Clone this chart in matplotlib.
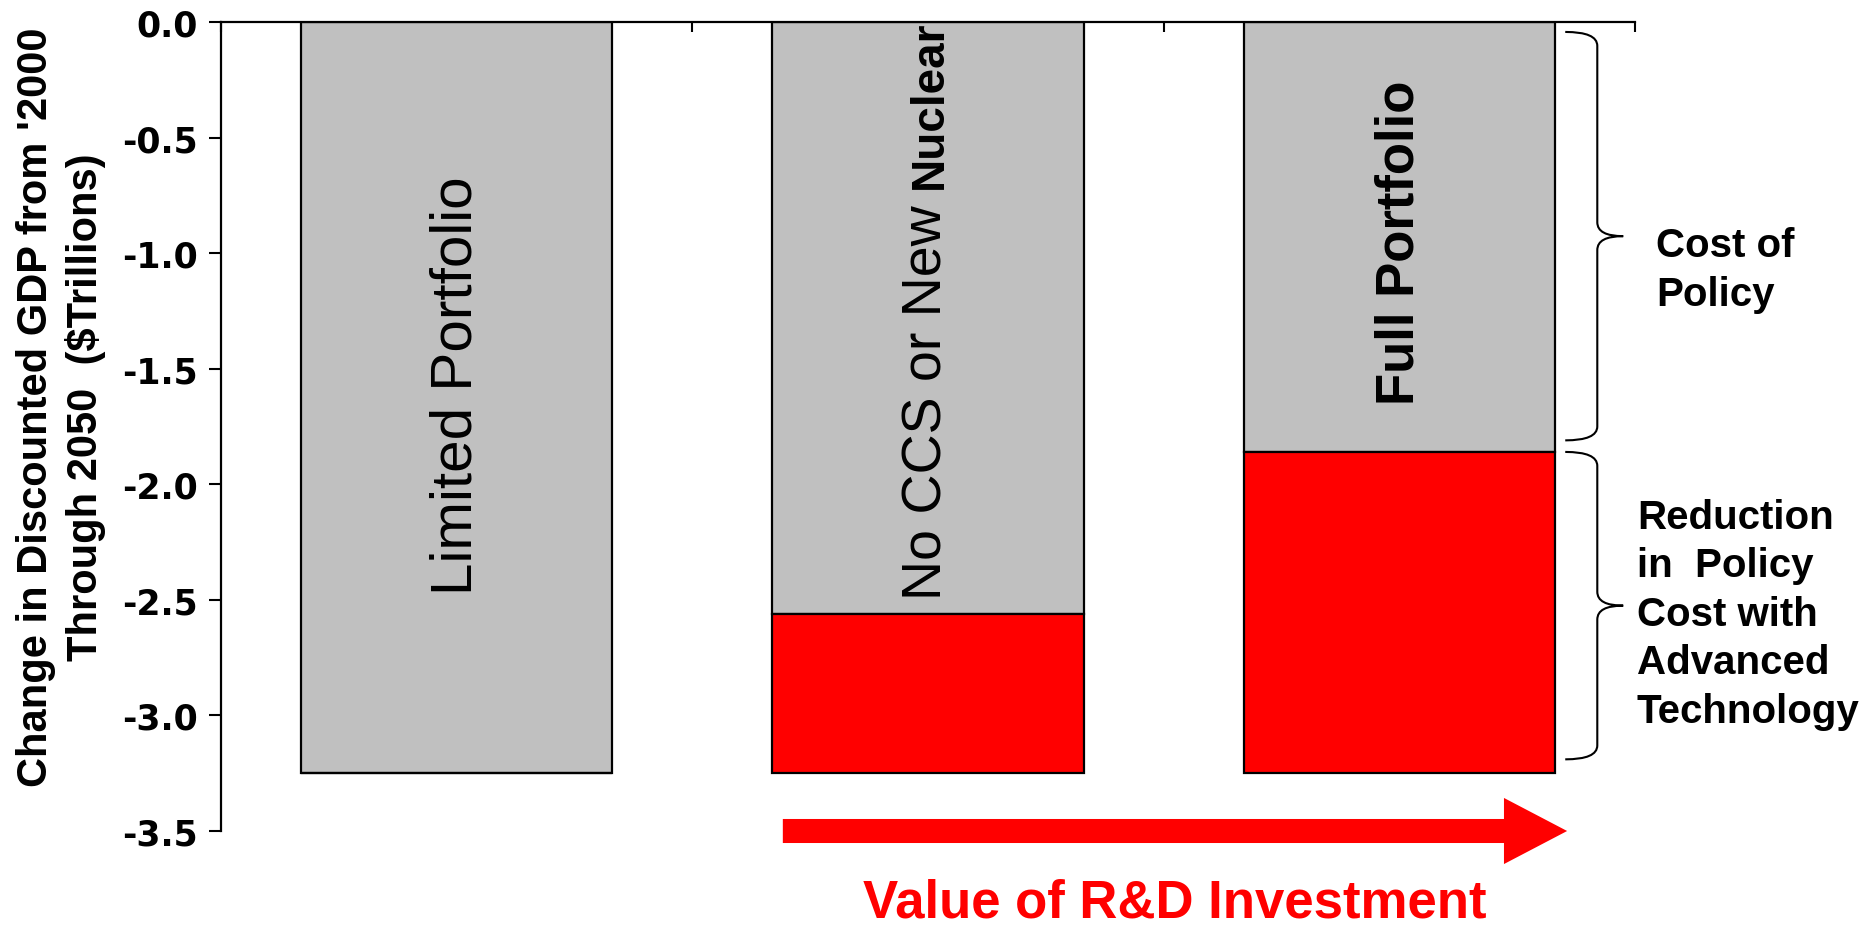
import numpy as np
import matplotlib
matplotlib.use('Agg')
import matplotlib.pyplot as plt
from matplotlib.path import Path
from matplotlib.patches import PathPatch, FancyArrow

plt.rcParams['font.family'] = ['Liberation Sans', 'DejaVu Sans']

# data
scenarios = ['Limited Portfolio', 'No CCS or New Nuclear', 'Full Portfolio']
total_cost = [-3.25, -3.25, -3.25]      # cost of policy, limited technology
cost_with_tech = [-3.25, -2.56, -1.86]  # cost of policy with the technology set
y_ticks = [0.0, -0.5, -1.0, -1.5, -2.0, -2.5, -3.0, -3.5]


def brace(ax, x_left, x_stem, x_tip, y_top, y_bot, r=0.06):
	y_mid = (y_top + y_bot) / 2.0
	verts = [(x_left, y_top), (x_stem, y_top), (x_stem, y_top - r),
		(x_stem, y_mid + r), (x_stem, y_mid), (x_tip, y_mid),
		(x_stem, y_mid), (x_stem, y_mid - r),
		(x_stem, y_bot + r), (x_stem, y_bot), (x_left, y_bot)]
	codes = [Path.MOVETO, Path.CURVE3, Path.CURVE3,
		Path.LINETO, Path.CURVE3, Path.CURVE3,
		Path.CURVE3, Path.CURVE3,
		Path.LINETO, Path.CURVE3, Path.CURVE3]
	ax.add_patch(PathPatch(Path(verts, codes), facecolor='none', edgecolor='black',
		lw=1.5, clip_on=False))


fig = plt.figure(figsize=(18.64, 9.28), dpi=100)
ax = fig.add_axes([221/1864, 1-832/928, (1635-221)/1864, (832-23)/928])

x = np.arange(len(scenarios))
red_part = np.array(total_cost) - np.array(cost_with_tech)
ax.bar(x, cost_with_tech, width=0.66, color='#C0C0C0', edgecolor='black', linewidth=1.6, zorder=2)
ax.bar(x, red_part, bottom=cost_with_tech, width=0.66, color='#FF0000', edgecolor='black',
	linewidth=1.6, zorder=2)

ax.set_xlim(-0.5, 2.5)
ax.set_ylim(-3.5, 0)
ax.set_yticks(y_ticks)
ax.set_yticklabels(['%.1f' % v for v in y_ticks], family='DejaVu Sans', fontweight='bold', fontsize=25)
ax.set_xticks([-0.5, 0.5, 1.5, 2.5])
ax.xaxis.tick_top()
ax.tick_params(axis='x', which='both', direction='in', length=7, width=1.5, labeltop=False)
ax.tick_params(axis='y', direction='out', length=9, width=1.5, pad=8)
for s in ['right', 'bottom']:
	ax.spines[s].set_visible(False)
for s in ['left', 'top']:
	ax.spines[s].set_linewidth(1.6)

# labels inside the bars
ax.text(0, -1.57, 'Limited Portfolio', rotation=90, ha='center', va='center', fontsize=42, zorder=3)
ax.text(1, -0.79, 'No CCS or New', rotation=90, ha='center', va='top', fontsize=40, zorder=3)
ax.text(1.005, -0.72, 'Nuclear', rotation=90, ha='center', va='bottom', fontsize=33,
	fontweight='bold', zorder=3)
ax.text(2, -0.95, 'Full Portfolio', rotation=90, ha='center', va='center', fontsize=38,
	fontweight='bold', zorder=3)

# braces and notes on the right
brace(ax, 2.352, 2.42, 2.475, -0.043, -1.81)
brace(ax, 2.352, 2.42, 2.475, -1.86, -3.19)
ax.text(2.545, -1.07, 'Cost of\nPolicy', ha='left', va='center', fontsize=29,
	fontweight='bold', linespacing=1.35, clip_on=False)
ax.text(2.504, -2.56, 'Reduction\nin  Policy\nCost with\nAdvanced\nTechnology', ha='left',
	va='center', fontsize=29, fontweight='bold', linespacing=1.35, clip_on=False)

# arrow under the chart
ax.add_patch(FancyArrow(0.692, -3.5, 2.356-0.692, 0, width=0.104, head_width=0.286,
	head_length=0.134, length_includes_head=True, color='#FF0000', lw=0, clip_on=False))
fig.text(1175/1864, 10/928, 'Value of R&D Investment', ha='center', va='baseline',
	fontsize=38, fontweight='bold', color='#FF0000')

fig.text(61/1864, 1-407/928, "Change in Discounted GDP from '2000\nThrough 2050  ($Trillions)",
	rotation=90, ha='center', va='center', multialignment='center',
	fontsize=30, fontweight='bold', linespacing=1.3)

fig.savefig('out.png', dpi=100)
